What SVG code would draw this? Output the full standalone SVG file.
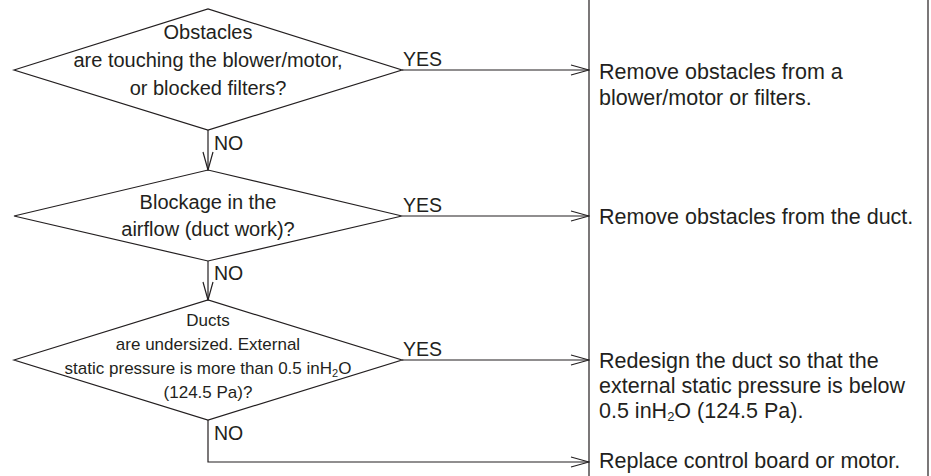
<svg xmlns="http://www.w3.org/2000/svg" width="931" height="476" viewBox="0 0 931 476">
<style>
.ln{fill:none;stroke:#231f20;stroke-width:1.2}
.t{font-family:"Liberation Sans",Arial,sans-serif;fill:#231f20;font-size:21px}
.c{text-anchor:middle}
.d{font-size:20px}
.s{font-size:17px}
.l{font-size:19.5px}
.r{font-size:21.5px}
</style>
<defs>
<marker id="ah" viewBox="0 0 20 12" refX="19" refY="6" markerWidth="20" markerHeight="12" markerUnits="userSpaceOnUse" orient="auto">
<path d="M1,1 L19,6 L1,11" fill="none" stroke="#231f20" stroke-width="1.2"/>
</marker>
</defs>
<rect width="931" height="476" fill="#fff"/>
<g id="actions-panel">
<path class="ln" d="M589,0 V476 M928,0 V476"/>
</g>
<g id="d1">
<polygon class="ln" points="14,70 208,9 402,70 208,130"/>
<text class="t c d" x="208" y="39">Obstacles</text>
<text class="t c d" x="208" y="67">are touching the blower/motor,</text>
<text class="t c d" x="208" y="95">or blocked filters?</text>
</g>
<g id="d2">
<polygon class="ln" points="14,216 208,170 402,216 208,261"/>
<text class="t c d" x="208" y="209">Blockage in the</text>
<text class="t c d" x="208" y="236">airflow (duct work)?</text>
</g>
<g id="d3">
<polygon class="ln" points="14,360 208,300 402,360 208,420"/>
<text class="t c s" x="208" y="326">Ducts</text>
<text class="t c s" x="208" y="350">are undersized. External</text>
<text class="t c s" x="208" y="374">static pressure is more than 0.5 inH<tspan font-size="11" dy="3">2</tspan><tspan dy="-3">O</tspan></text>
<text class="t c s" x="208" y="398">(124.5 Pa)?</text>
</g>
<g id="a1">
<text class="t r" x="599" y="79">Remove obstacles from a</text>
<text class="t r" x="599" y="105">blower/motor or filters.</text>
</g>
<g id="a2">
<text class="t r" x="599" y="224">Remove obstacles from the duct.</text>
</g>
<g id="a3">
<text class="t r" x="599" y="368">Redesign the duct so that the</text>
<text class="t r" x="599" y="393">external static pressure is below</text>
<text class="t r" x="599" y="418">0.5 inH<tspan font-size="13" dy="3">2</tspan><tspan dy="-3">O (124.5 Pa).</tspan></text>
</g>
<g id="a4">
<text class="t r" x="599" y="468">Replace control board or motor.</text>
</g>
<g id="connectors">
<path class="ln" d="M402,70 H589" marker-end="url(#ah)"/>
<path class="ln" d="M402,216 H589" marker-end="url(#ah)"/>
<path class="ln" d="M402,360 H589" marker-end="url(#ah)"/>
<path class="ln" d="M208,130 V170" marker-end="url(#ah)"/>
<path class="ln" d="M208,261 V300" marker-end="url(#ah)"/>
<path class="ln" d="M208,420 V462 H589" marker-end="url(#ah)"/>
<text class="t l" x="403" y="66">YES</text>
<text class="t l" x="403" y="212">YES</text>
<text class="t l" x="403" y="356">YES</text>
<text class="t l" x="214" y="150">NO</text>
<text class="t l" x="214" y="280">NO</text>
<text class="t l" x="214" y="440">NO</text>
</g>
</svg>
